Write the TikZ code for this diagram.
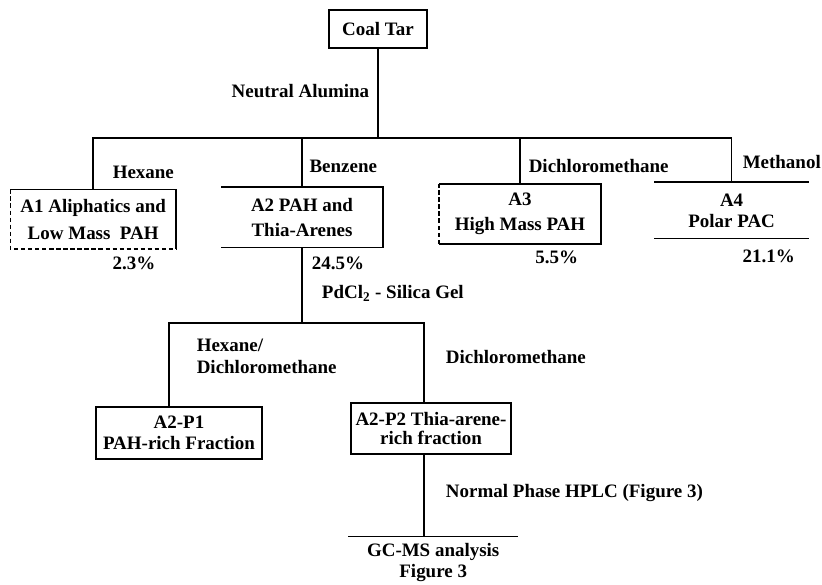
\documentclass[tikz,border=0pt]{standalone}
\usepackage{fontspec}
\setmainfont{Liberation Serif}
\usetikzlibrary{positioning,calc}

\begin{document}
\begin{tikzpicture}[line width=1.1pt,font=\fontsize{13.5}{16}\selectfont\bfseries,
  fbox/.style={align=center,inner sep=2pt,font=\fontsize{13.5}{18}\selectfont\bfseries},
  lbl/.style={anchor=west,inner sep=0pt,align=left,font=\fontsize{13.5}{15.5}\selectfont\bfseries},
  pct/.style={inner sep=0pt}]
\useasboundingbox (0,0) rectangle (20.55,-14.6);
\node[fbox,draw,minimum width=2.45cm,minimum height=0.95cm] (coal) at (9.45,-0.73) {Coal Tar};
\coordinate (j1) at (9.45,-3.45);
\node[lbl,anchor=east] (alum) at (9.25,-2.28) {Neutral Alumina};
% first column fractions
\node[fbox,minimum width=4.1cm,minimum height=1.45cm,font=\fontsize{13.5}{19}\selectfont\bfseries] (a1) at (2.33,-5.48) {A1 Aliphatics and\\ Low Mass\ \ PAH};
\node[fbox,minimum width=4.0cm,minimum height=1.48cm] (a2) at (7.55,-5.43) {A2 PAH and\\ Thia-Arenes};
\node[fbox,minimum width=4.0cm,minimum height=1.45cm] (a3) at (13.0,-5.35) {A3\\ High Mass PAH};
\node[fbox,minimum width=3.83cm,minimum height=1.375cm,font=\fontsize{13.5}{15}\selectfont\bfseries] (a4) at (18.29,-5.26) {A4\\ Polar PAC};
\draw (a1.south east) -- (a1.north east) -- (a1.north west);
\draw[densely dashed] (a1.north west) -- (a1.south west) -- (a1.south east);
\draw (a2.north west) -- (a2.north east) -- (a2.south east) -- (a2.south west);
\draw (a3.north west) -- (a3.north east) -- (a3.south east) -- (a3.south west);
\draw[densely dashed] (a3.south west) -- (a3.north west);
\draw (a4.north west) -- (a4.north east);
\draw (a4.south west) -- (a4.south east);
\draw (coal) -- (j1);
\draw (a1.north) |- (j1) -| (a4.north);
\draw (a2.north) -- (a2.north |- j1);
\draw (a3.north) -- (a3.north |- j1);
\node[lbl] (hex) at (2.8,-4.3) {Hexane};
\node[lbl] (benz) at (7.72,-4.15) {Benzene};
\node[lbl] (dcm) at (13.2,-4.15) {Dichloromethane};
\node[lbl] (meoh) at (18.55,-4.05) {Methanol};
\node[pct] (p1) at (3.35,-6.58) {2.3\%};
\node[pct] (p2) at (8.45,-6.58) {24.5\%};
\node[pct] (p3) at (13.92,-6.43) {5.5\%};
\node[pct] (p4) at (19.22,-6.4) {21.1\%};
% second column on A2
\coordinate (j2) at (7.55,-8.08);
\draw (a2.south) -- (j2);
\node[lbl] (pd) at (8.03,-7.33) {PdCl\textsubscript{2} - Silica Gel};
\node[fbox,draw,minimum width=4.15cm,minimum height=1.3cm,font=\fontsize{13.5}{15}\selectfont\bfseries] (b1) at (4.475,-10.825) {A2-P1\\ PAH-rich Fraction};
\node[fbox,draw,minimum width=4.0cm,minimum height=1.28cm,font=\fontsize{13.5}{14}\selectfont\bfseries] (b2) at (10.775,-10.71) {A2-P2 Thia-arene-\\ rich fraction};
\draw ([xshift=-0.25cm]b1.north) |- (j2) -| ([xshift=-0.175cm]b2.north);
\node[lbl] (hexdcm) at (4.9,-8.9) {Hexane/\\ Dichloromethane};
\node[lbl] (dcm2) at (11.13,-8.93) {Dichloromethane};
\node[fbox,minimum width=4.2cm,minimum height=1.26cm,font=\fontsize{13.5}{15}\selectfont\bfseries] (gc) at (10.83,-14.06) {GC-MS analysis\\ Figure 3};
\draw (gc.north west) -- (gc.north east);
\draw ([xshift=-0.175cm]b2.south) -- ([xshift=-0.175cm]b2.south |- gc.north);
\node[lbl] (hplc) at (11.13,-12.33) {Normal Phase HPLC (Figure 3)};
\end{tikzpicture}
\end{document}
